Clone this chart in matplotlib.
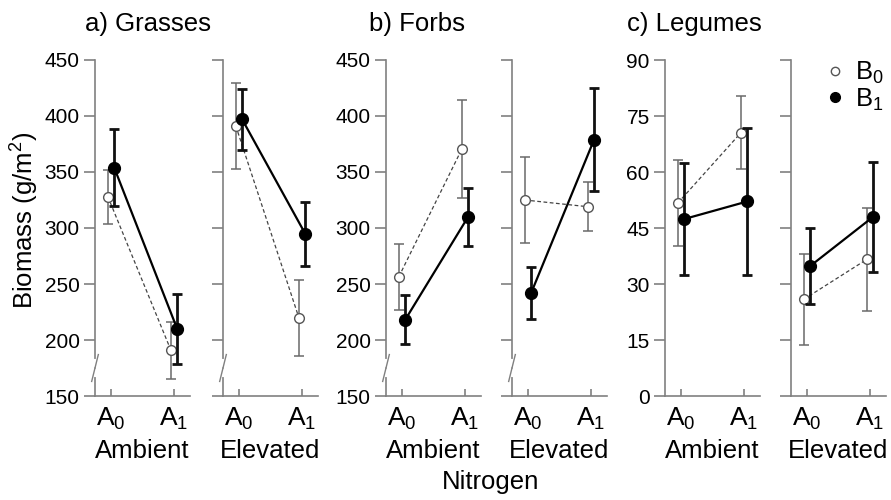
import matplotlib
matplotlib.use("Agg")
import matplotlib.pyplot as plt
import numpy as np

plt.rcParams['font.family'] = ['Liberation Sans', 'DejaVu Sans']
plt.rcParams['mathtext.fontset'] = 'custom'
plt.rcParams['mathtext.rm'] = 'Liberation Sans'
plt.rcParams['mathtext.default'] = 'regular'

# data: mean and standard error for A0, A1 in each panel
groups = ["a) Grasses", "b) Forbs", "c) Legumes"]
sites = ["Ambient", "Elevated"]
ticklabels = ["A$_0$", "A$_1$"]

grass_b0 = [[328, 191], [391, 220]]
grass_b0_se = [[24, 25.5], [38.5, 34]]
grass_b1 = [[354, 210], [397, 295]]
grass_b1_se = [[34, 31], [27.5, 28.5]]

forb_b0 = [[256.5, 370.5], [325, 319]]
forb_b0_se = [[29.5, 43.5], [38, 22]]
forb_b1 = [[218, 310], [242, 379]]
forb_b1_se = [[22, 26], [23, 46]]

legume_b0 = [[51.7, 70.5], [25.9, 36.6]]
legume_b0_se = [[11.5, 9.8], [12.2, 13.7]]
legume_b1 = [[47.4, 52.1], [34.8, 48.0]]
legume_b1_se = [[14.9, 19.8], [10.2, 14.7]]

b0 = [grass_b0, forb_b0, legume_b0]
b0_se = [grass_b0_se, forb_b0_se, legume_b0_se]
b1 = [grass_b1, forb_b1, legume_b1]
b1_se = [grass_b1_se, forb_b1_se, legume_b1_se]

ylims = [(150, 450), (150, 450), (0, 90)]
yticks = [np.arange(150, 451, 50), np.arange(150, 451, 50), np.arange(0, 91, 15)]

W, H = 891, 500
fig = plt.figure(figsize=(W / 100, H / 100), dpi=100)

lefts = [95, 223, 386, 512, 665, 791]
axcol = "#808080"
xs = np.array([0, 1])

for g in range(3):
    for s in range(2):
        left = lefts[g * 2 + s]
        ax = fig.add_axes([left / W, (H - 396) / H, 95 / W, 336 / H])
        ax.set_xlim(-0.254, 1.254)
        ax.set_ylim(*ylims[g])
        for sp in ["top", "right"]:
            ax.spines[sp].set_visible(False)
        for sp in ["left", "bottom"]:
            ax.spines[sp].set_color(axcol)
            ax.spines[sp].set_linewidth(1.2)
        ax.set_yticks(yticks[g])
        ax.tick_params(axis="y", direction="out", length=8, width=1.2,
                       color=axcol, labelsize=15, pad=3)
        if s == 1:
            ax.set_yticklabels([])
        ax.set_xticks(xs)
        ax.set_xticklabels(ticklabels)
        ax.tick_params(axis="x", direction="in", length=5, width=1.2,
                       color=axcol, labelsize=19, pad=7)
        ax.set_xlabel(sites[s], fontsize=18.5, labelpad=5)

        # B0: open grey circles, dashed line
        ax.plot(xs - 0.05, b0[g][s], ls=(0, (3, 2)), color="#444444", lw=0.9, zorder=2)
        ax.errorbar(xs - 0.05, b0[g][s], yerr=b0_se[g][s], fmt="none",
                    ecolor="#6a6a6a", elinewidth=1.1, capsize=3.5, capthick=1.1, zorder=3)
        ax.plot(xs - 0.05, b0[g][s], "o", ms=7, mfc="white", mec="#555555", mew=1.0, zorder=4)
        # B1: filled black circles, solid line
        ax.plot(xs + 0.05, b1[g][s], "-", color="black", lw=1.6, zorder=5)
        ax.errorbar(xs + 0.05, b1[g][s], yerr=b1_se[g][s], fmt="none",
                    ecolor="#111111", elinewidth=2.0, capsize=3.5, capthick=2.0, zorder=6)
        ax.plot(xs + 0.05, b1[g][s], "o", ms=8.5, mfc="black", mec="black", zorder=7)

        if g < 2:
            # axis break mark on the y axis
            ax.plot([0, 0], [169, 181], color="white", lw=3,
                    transform=ax.get_yaxis_transform(), clip_on=False, zorder=8)
            ax.plot([-0.035, 0.0], [163, 175], color=axcol, lw=1.0,
                    transform=ax.get_yaxis_transform(), clip_on=False, zorder=9)
            ax.plot([0.0, 0.035], [175, 187], color=axcol, lw=1.0,
                    transform=ax.get_yaxis_transform(), clip_on=False, zorder=9)

        if g == 2 and s == 1:
            h0 = ax.plot([], [], "o", ms=6, mfc="white", mec="#555555", mew=1.0)[0]
            h1 = ax.plot([], [], "o", ms=7, mfc="black", mec="black")[0]
            ax.legend([h0, h1], ["B$_0$", "B$_1$"], loc="upper left",
                      bbox_to_anchor=(0.27, 1.03), frameon=False, fontsize=18.5,
                      handlelength=0.6, handletextpad=0.5, labelspacing=0.0,
                      borderaxespad=0)

title_x = [148, 417, 694]
for g in range(3):
    fig.text(title_x[g] / W, 1 - 24 / H, groups[g], fontsize=18.5,
             ha="center", va="center")

fig.text(25 / W, 1 - 220 / H, "Biomass (g/m$^2$)", fontsize=18.5,
         rotation=90, ha="center", va="center")
fig.text(491 / W, 1 - 482 / H, "Nitrogen", fontsize=18.5, ha="center", va="center")

fig.savefig("out.png", dpi=100)
